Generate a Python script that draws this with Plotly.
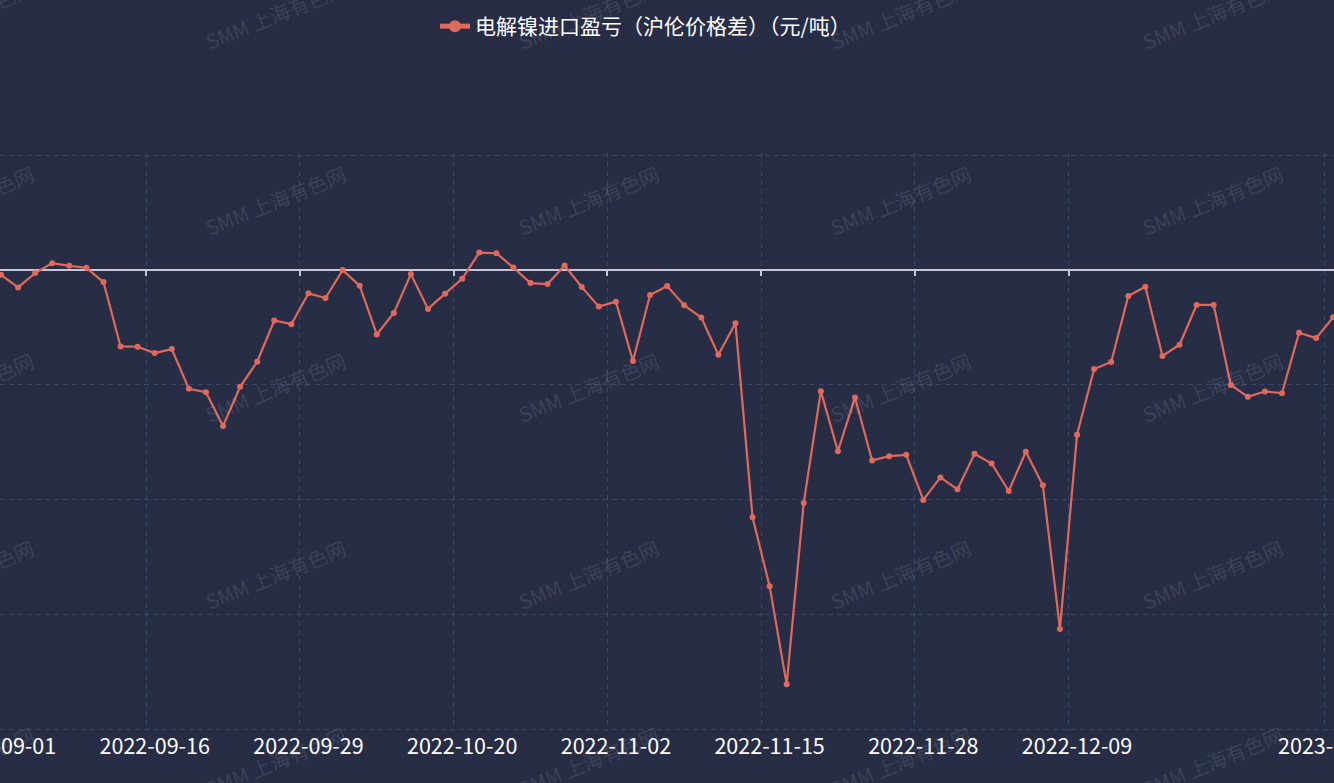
import plotly.graph_objects as go

dates = [
    "2022-09-01", "2022-09-02", "2022-09-05", "2022-09-06", "2022-09-07", "2022-09-08",
    "2022-09-13", "2022-09-14", "2022-09-15", "2022-09-16",
    "2022-09-19", "2022-09-20", "2022-09-21", "2022-09-22", "2022-09-23", "2022-09-26",
    "2022-09-27", "2022-09-28", "2022-09-29",
    "2022-09-30", "2022-10-11", "2022-10-12", "2022-10-13", "2022-10-14", "2022-10-17",
    "2022-10-18", "2022-10-19", "2022-10-20",
    "2022-10-21", "2022-10-24", "2022-10-25", "2022-10-26", "2022-10-27", "2022-10-28",
    "2022-10-31", "2022-11-01", "2022-11-02",
    "2022-11-03", "2022-11-04", "2022-11-07", "2022-11-08", "2022-11-09", "2022-11-10",
    "2022-11-11", "2022-11-14", "2022-11-15",
    "2022-11-16", "2022-11-17", "2022-11-18", "2022-11-21", "2022-11-22", "2022-11-23",
    "2022-11-24", "2022-11-25", "2022-11-28",
    "2022-11-29", "2022-11-30", "2022-12-01", "2022-12-02", "2022-12-05", "2022-12-06",
    "2022-12-07", "2022-12-08", "2022-12-09",
    "2022-12-12", "2022-12-13", "2022-12-14", "2022-12-15", "2022-12-16", "2022-12-19",
    "2022-12-20", "2022-12-21", "2022-12-22", "2022-12-23", "2022-12-26", "2022-12-27",
    "2022-12-28", "2022-12-29", "2023-01-03",
]

values = [
    -217, -766, -144, 289, 173, 87, -534, -3337, -3351, -3626,
    -3452, -5185, -5330, -6803, -5098, -4001, -2210, -2369, -1025,
    -1228, -14, -693, -2817, -1878, -188, -1704, -1040, -390,
    751, 722, 101, -578, -621, 188, -751, -1603, -1387,
    -3972, -1098, -708, -1545, -2080, -3698, -2325, -10776, -13779,
    -18055, -10154, -5286, -7900, -5561, -8306, -8118, -8060, -10024,
    -9043, -9563, -8017, -8436, -9633, -7930, -9389, -15643, -7180,
    -4319, -4016, -1141, -737, -3756, -3264, -1531, -1531, -5012,
    -5532, -5301, -5373, -2744, -2975, -2066,
]

series_name = "电解镍进口盈亏（沪伦价格差）（元/吨）"
label_dates = ["2022-09-01", "2022-09-16", "2022-09-29", "2022-10-20", "2022-11-02",
               "2022-11-15", "2022-11-28", "2022-12-09", "2023-01-03"]
watermark = "SMM 上海有色网"

W, H = 1334, 783
BG = "#272D45"
GRID = "#3B4564"
AXIS = "#C6C6DA"
LINE = "#E0695E"
FONT = "Noto Sans CJK SC"

idx = list(range(len(dates)))
label_idx = [dates.index(d) for d in label_dates]
bounds = [i - 0.5 for i in label_idx[1:]]

# pixel geometry: 5000 at y=155px, -20000 at y=729px, 2px of slack on each side
step_px = 17.08
x0_px = 1.0
xmin = -x0_px / step_px
xmax = xmin + W / step_px
grid_top, grid_bot = 155, 729
pad_px = 2
units_per_px = 25000 / (grid_bot - grid_top)
plot_top, plot_bot = grid_top - pad_px, grid_bot + pad_px
ymin = -20000 - pad_px * units_per_px
ymax = 5000 + pad_px * units_per_px

fig = go.Figure()
fig.add_trace(go.Scatter(
    x=idx, y=values, name=series_name, mode="lines+markers",
    line=dict(color=LINE, width=2.2), marker=dict(color=LINE, size=6),
    cliponaxis=False, showlegend=True,
))
# empty helper trace so the zero-line tick axis is created (draws nothing)
fig.add_trace(go.Scatter(x=[], y=[], xaxis="x2", yaxis="y", showlegend=False,
                         hoverinfo="skip", mode="lines"))

fig.update_layout(
    width=W, height=H,
    paper_bgcolor=BG, plot_bgcolor=BG,
    margin=dict(l=0, r=0, t=plot_top, b=H - plot_bot, pad=0, autoexpand=False),
    font=dict(family=FONT, color="white", size=20),
    showlegend=True,
    legend=dict(orientation="h", xref="container", x=435 / W, xanchor="left",
                yref="container", y=1 - 6 / H, yanchor="top",
                font=dict(size=21, color="white"),
                bgcolor="rgba(0,0,0,0)", itemsizing="constant"),
    xaxis=dict(type="linear", range=[xmin, xmax], tickmode="array", tickvals=label_idx,
               ticktext=label_dates, ticks="", showgrid=False, zeroline=False,
               showline=False, ticklabeloverflow="allow", automargin=False,
               tickfont=dict(size=21.5, color="white", family=FONT),
               minor=dict(tickmode="array", tickvals=bounds, showgrid=True,
                          gridcolor=GRID, griddash="5px,4px", gridwidth=1, ticks="")),
    xaxis2=dict(type="linear", overlaying="x", anchor="free",
                position=(0 - ymin) / (ymax - ymin), side="bottom",
                range=[xmin, xmax], tickmode="array", tickvals=bounds[:-1],
                ticks="outside", ticklen=5, tickwidth=1.5, tickcolor=AXIS,
                showline=False, showgrid=False, showticklabels=False,
                zeroline=False, layer="below traces", automargin=False),
    yaxis=dict(range=[ymin, ymax], dtick=5000, tick0=0, showticklabels=False,
               ticks="", showgrid=True, gridcolor=GRID, griddash="5px,4px",
               gridwidth=1, zeroline=True, zerolinecolor=AXIS, zerolinewidth=1.5,
               showline=False, automargin=False),
)

# watermarks
cols = [-37, 275, 588, 900, 1212]
rows = [14, 200, 387, 574, 761]
ph = plot_bot - plot_top
for cx in cols:
    for cy in rows:
        fig.add_annotation(
            text=watermark, xref="paper", yref="paper",
            x=cx / W, y=(plot_bot - cy) / ph, showarrow=False,
            textangle=-22, font=dict(size=20, color="rgba(255,255,255,0.11)", family=FONT),
            xanchor="center", yanchor="middle",
        )

fig.write_html("out.html", config={"displayModeBar": False},
               post_script="document.body.style.margin='0px';"
                           "document.body.style.background='" + BG + "';")
